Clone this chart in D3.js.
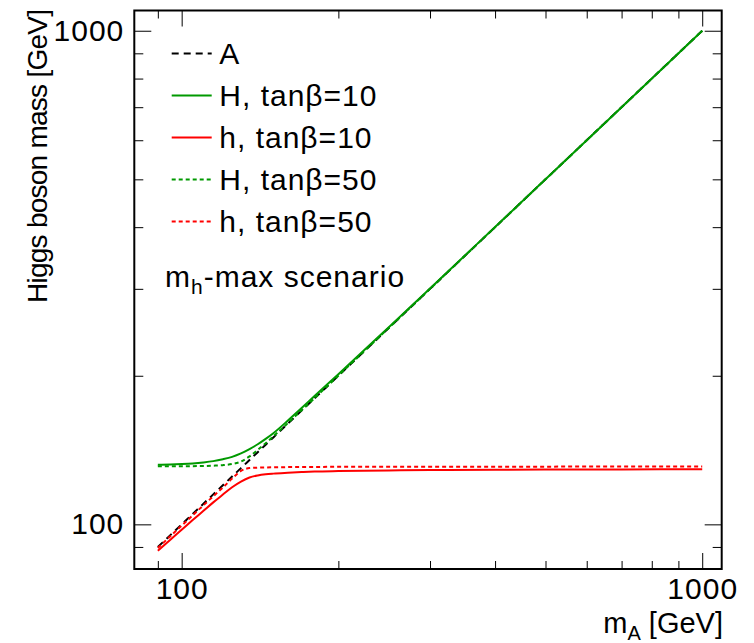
<!DOCTYPE html>
<html lang="en">
<head>
    <meta charset="UTF-8">
    <title>Higgs boson masses</title>
    <style type="text/css">
        body { margin: 0; background: #fff; }
        svg text { font-family: "Liberation Sans", Arial, Helvetica, sans-serif; fill: #000; }
    </style>
</head>
<body>
<script src="https://d3js.org/d3.v7.min.js"></script>
<script>
    // values (GeV)
    var mA  = [90, 95, 100, 105, 110, 115, 120, 125, 130, 135, 140, 145, 150, 160, 170, 180, 200, 250, 300, 400, 500, 700, 1000];
    var H10 = [132.0, 132.2, 132.5, 132.9, 133.5, 134.3, 135.5, 137.0, 139.2, 142.0, 145.3, 149.0, 153.0, 162.3, 172.0, 181.9, 201.4, 250.9, 300.5, 400.3, 500.2, 700, 1000];
    var h10 = [88.4, 93.0, 97.5, 102.0, 106.4, 110.8, 114.9, 118.9, 122.1, 124.4, 125.6, 126.3, 126.7, 127.2, 127.6, 127.9, 128.2, 128.6, 128.8, 129.0, 129.1, 129.2, 129.3];
    var H50 = [131.1, 131.1, 131.1, 131.2, 131.3, 131.5, 131.8, 132.5, 134.0, 137.3, 141.5, 146.0, 150.7, 160.4, 170.2, 180.1, 200.1, 250, 300, 400, 500, 700, 1000];
    var h50 = [89.6, 94.5, 99.4, 104.3, 109.2, 114.0, 118.7, 123.8, 128.3, 130.0, 130.3, 130.4, 130.5, 130.6, 130.7, 130.7, 130.8, 130.8, 130.9, 130.9, 130.9, 131.0, 131.0];

    var xMajor = [100, 1000],
        xMinor = [90, 200, 300, 400, 500, 600, 700, 800, 900],
        yMajor = [100, 1000],
        yMinor = [90, 200, 300, 400, 500, 600, 700, 800, 900];

    var series = [
        { name: 'A',             y: mA,  color: '#000000', dash: '7,5' },
        { name: 'H, tan\u03b2=10', y: H10, color: '#009900', dash: null },
        { name: 'h, tan\u03b2=10', y: h10, color: '#ff0000', dash: null },
        { name: 'H, tan\u03b2=50', y: H50, color: '#009900', dash: '4,3' },
        { name: 'h, tan\u03b2=50', y: h50, color: '#ff0000', dash: '4,3' }
    ];

    var width = 754,
        height = 643,
        padL = 134.3, padR = 721.7, padT = 10.5, padB = 569,
        fontSize = 30;

    var svg = d3.select('body').append('svg')
        .attr('width', width)
        .attr('height', height);

    var xScale = d3.scaleLog().domain([81.1, 1090]).range([padL, padR]);
    var yScale = d3.scaleLog().domain([81.2, 1099]).range([padB, padT]);

    function styleAxis(g) {
        g.select('.domain').remove();
        g.selectAll('line').attr('stroke', '#000').attr('stroke-width', 1);
        g.selectAll('text').attr('font-size', fontSize)
            .attr('letter-spacing', 1)
            .attr('font-family', '"Liberation Sans", Arial, sans-serif');
    }

    function fmt(d) { return d3.format('d')(d); }

    // bottom axis
    svg.append('g').attr('transform', 'translate(0,' + padB + ')')
        .call(d3.axisBottom(xScale).tickValues(xMajor).tickFormat(fmt).tickSize(-16).tickPadding(9))
        .call(styleAxis);
    svg.append('g').attr('transform', 'translate(0,' + padB + ')')
        .call(d3.axisBottom(xScale).tickValues(xMinor).tickFormat('').tickSize(-8))
        .call(styleAxis);
    // top axis
    svg.append('g').attr('transform', 'translate(0,' + padT + ')')
        .call(d3.axisTop(xScale).tickValues(xMajor).tickFormat('').tickSize(-16))
        .call(styleAxis);
    svg.append('g').attr('transform', 'translate(0,' + padT + ')')
        .call(d3.axisTop(xScale).tickValues(xMinor).tickFormat('').tickSize(-8))
        .call(styleAxis);
    // left axis
    svg.append('g').attr('transform', 'translate(' + padL + ',0)')
        .call(d3.axisLeft(yScale).tickValues(yMajor).tickFormat(fmt).tickSize(-17).tickPadding(10))
        .call(styleAxis);
    svg.append('g').attr('transform', 'translate(' + padL + ',0)')
        .call(d3.axisLeft(yScale).tickValues(yMinor).tickFormat('').tickSize(-9))
        .call(styleAxis);
    // right axis
    svg.append('g').attr('transform', 'translate(' + padR + ',0)')
        .call(d3.axisRight(yScale).tickValues(yMajor).tickFormat('').tickSize(-17))
        .call(styleAxis);
    svg.append('g').attr('transform', 'translate(' + padR + ',0)')
        .call(d3.axisRight(yScale).tickValues(yMinor).tickFormat('').tickSize(-9))
        .call(styleAxis);

    // curves
    var line = d3.line()
        .x(function(d) { return xScale(d[0]); })
        .y(function(d) { return yScale(d[1]); })
        .curve(d3.curveMonotoneX);

    series.forEach(function(s) {
        svg.append('path')
            .datum(mA.map(function(m, i) { return [m, s.y[i]]; }))
            .attr('d', line)
            .attr('fill', 'none')
            .attr('stroke', s.color)
            .attr('stroke-width', 2)
            .attr('stroke-dasharray', s.dash);
    });

    // frame
    svg.append('rect')
        .attr('x', padL).attr('y', padT)
        .attr('width', padR - padL).attr('height', padB - padT)
        .attr('fill', 'none').attr('stroke', '#000').attr('stroke-width', 2);

    // legend
    var legend = svg.append('g');
    series.forEach(function(s, i) {
        var ly = 53.5 + i * 42;
        legend.append('line')
            .attr('x1', 171.7).attr('x2', 211.7)
            .attr('y1', ly).attr('y2', ly)
            .attr('stroke', s.color).attr('stroke-width', 2)
            .attr('stroke-dasharray', s.dash);
        legend.append('text')
            .attr('x', 219.3).attr('y', ly + 10.5)
            .attr('font-size', 30)
            .attr('letter-spacing', 1)
            .text(s.name);
    });

    var scen = svg.append('text')
        .attr('x', 165).attr('y', 287)
        .attr('font-size', 30)
        .attr('letter-spacing', 1);
    scen.append('tspan').text('m');
    scen.append('tspan').attr('font-size', 21).attr('dy', 7).text('h');
    scen.append('tspan').attr('dy', -7).text('-max scenario');

    // axis titles
    var xt = svg.append('text')
        .attr('x', 723).attr('y', 633)
        .attr('text-anchor', 'end')
        .attr('font-size', 29);
    xt.append('tspan').text('m');
    xt.append('tspan').attr('font-size', 20).attr('dy', 7).text('A');
    xt.append('tspan').attr('dy', -7).text(' [GeV]');

    svg.append('text')
        .attr('transform', 'translate(47,9) rotate(-90)')
        .attr('text-anchor', 'end')
        .attr('font-size', 28)
        .attr('textLength', 294)
        .attr('lengthAdjust', 'spacing')
        .text('Higgs boson mass [GeV]');
</script>
</body>
</html>
